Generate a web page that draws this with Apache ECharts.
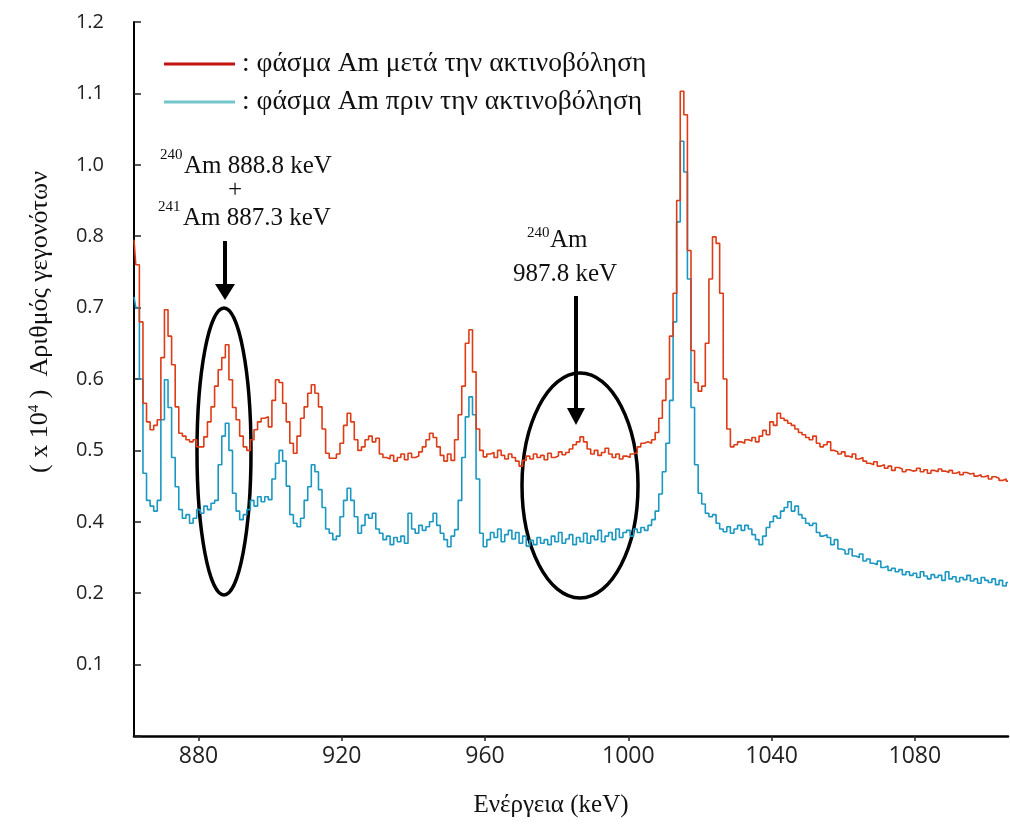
<!DOCTYPE html>
<html><head><meta charset="utf-8">
<script src="https://cdn.jsdelivr.net/npm/echarts@6/dist/echarts.min.js"></script>
<style>html,body{margin:0;padding:0;background:#fff}#c{width:1010px;height:827px}</style>
</head><body><div id="c"></div>
<script>
// Channel energies (keV): uniform 1 keV bins starting at 862 keV
const energyStart = 862;
const energyStep = 1;

// Counts in axis-position units (one unit = one labelled tick step)
const afterIrradiation = [
  6.95, 6.6, 5.8, 4.66, 4.4, 4.29, 4.35, 4.43, 5.3, 5.97,
  5.6, 5.2, 4.61, 4.24, 4.2, 4.15, 4.12, 4.15, 4.05, 4.05,
  4.19, 4.4, 4.61, 4.9, 5.13, 5.3, 5.48, 4.99, 4.6, 4.43,
  4.2, 4.05, 4.0, 4.15, 4.29, 4.4, 4.45, 4.47, 4.33, 4.7,
  4.99, 4.95, 4.66, 4.4, 4.1, 3.96, 4.2, 4.45, 4.61, 4.8,
  4.92, 4.8, 4.61, 4.3, 3.96, 3.89, 3.89, 3.95, 4.1, 4.35,
  4.52, 4.4, 4.15, 4.0, 4.05, 4.15, 4.2, 4.12, 4.17, 3.95,
  3.9, 3.88, 3.93, 3.85, 3.9, 3.95, 3.87, 3.96, 3.9, 3.92,
  3.98, 4.05, 4.15, 4.24, 4.18, 4.05, 3.93, 3.85, 3.95, 3.86,
  4.15, 4.5, 4.9, 5.5, 5.69, 5.1, 4.3, 4.0, 3.91, 3.95,
  3.97, 3.9, 4.0, 3.93, 3.88, 3.95, 3.9, 3.85, 3.78, 3.86,
  3.92, 3.88, 3.95, 3.9, 3.93, 3.87, 3.96, 3.9, 3.92, 3.98,
  3.94, 3.97, 4.02, 4.08, 4.12, 4.19, 4.12, 4.02, 3.95, 4.0,
  3.93, 3.97, 4.03, 3.95, 3.9, 3.95, 3.88, 3.92, 3.9, 3.95,
  3.97, 4.05, 4.1, 4.12, 4.1, 4.15, 4.25, 4.45, 4.7, 5.0,
  5.6, 6.2, 7.5, 9.03, 8.7, 6.8, 5.4, 4.95, 4.83, 4.9,
  5.5, 6.4, 6.99, 6.9, 6.2, 5.0, 4.3, 4.05, 4.08, 4.12,
  4.1, 4.15, 4.13, 4.18, 4.12, 4.2, 4.28, 4.22, 4.4, 4.35,
  4.52, 4.45, 4.42, 4.38, 4.35, 4.3, 4.25, 4.22, 4.18, 4.15,
  4.2, 4.1, 4.05, 4.08, 4.12, 4.0, 3.98, 3.95, 3.98, 3.92,
  3.9, 3.95, 3.88, 3.9, 3.85, 3.82, 3.8, 3.84, 3.78, 3.8,
  3.75, 3.78, 3.72, 3.76, 3.74, 3.7, 3.73, 3.71, 3.72, 3.75,
  3.7, 3.73, 3.68, 3.72, 3.7, 3.74, 3.71, 3.69, 3.72, 3.68,
  3.7, 3.66, 3.69, 3.67, 3.68, 3.64, 3.66, 3.63, 3.65, 3.6,
  3.63, 3.61, 3.58, 3.6, 3.57
];

const beforeIrradiation = [
  6.15, 6.0, 5.0, 3.68, 3.3, 3.22, 3.15, 3.3, 4.43, 4.99,
  4.6, 3.9, 3.49, 3.17, 3.05, 3.1, 2.98, 3.05, 3.17, 3.12,
  3.22, 3.17, 3.26, 3.3, 3.8, 4.2, 4.38, 4.0, 3.4, 3.15,
  3.03, 3.1, 3.17, 3.3, 3.22, 3.35, 3.28, 3.35, 3.31, 3.6,
  3.82, 4.0, 3.85, 3.5, 3.1, 2.98, 2.93, 3.05, 3.3, 3.49,
  3.8, 3.7, 3.45, 3.2, 2.9, 2.84, 2.75, 2.8, 3.07, 3.3,
  3.47, 3.3, 3.07, 2.84, 2.95, 3.1, 3.05, 3.12, 2.9, 2.84,
  2.75, 2.8, 2.68, 2.78, 2.72, 2.8, 2.7, 3.12, 2.9, 2.84,
  2.95, 2.88, 2.93, 3.0, 3.12, 2.95, 2.84, 2.75, 2.65, 2.8,
  2.89, 3.3, 3.9, 4.47, 4.75, 4.5, 3.6, 2.84, 2.65, 2.75,
  2.85, 2.78, 2.9, 2.72, 2.82, 2.88, 2.76, 2.85, 2.7, 2.8,
  2.66, 2.74, 2.68, 2.78, 2.7, 2.75, 2.68, 2.8, 2.72, 2.85,
  2.7, 2.76, 2.82, 2.68, 2.78, 2.72, 2.84, 2.7, 2.8, 2.75,
  2.88, 2.72, 2.8, 2.85, 2.75, 2.9, 2.78, 2.85, 2.88, 2.8,
  2.9, 2.85, 2.92, 2.88, 2.95, 3.03, 3.15, 3.39, 3.7, 4.1,
  4.7, 5.8, 7.2, 8.33, 7.9, 6.4, 4.6, 3.8, 3.4, 3.25,
  3.12, 3.07, 3.1, 2.98, 2.9, 2.86, 2.93, 2.84, 2.9, 2.95,
  2.88, 2.95, 2.9, 2.82, 2.75, 2.68, 2.8, 2.92, 3.0, 3.08,
  3.05, 3.15, 3.2, 3.28, 3.15, 3.22, 3.1, 3.05, 2.98, 2.95,
  2.98, 2.85, 2.8, 2.82, 2.78, 2.68, 2.75, 2.62, 2.6, 2.55,
  2.62, 2.52, 2.5, 2.55, 2.45, 2.48, 2.42, 2.4, 2.45, 2.36,
  2.38, 2.32, 2.35, 2.3, 2.33, 2.26, 2.3, 2.25, 2.28, 2.22,
  2.3, 2.24, 2.2, 2.26, 2.22, 2.25, 2.18, 2.3, 2.2, 2.23,
  2.16, 2.22, 2.19, 2.25, 2.17, 2.2, 2.14, 2.22, 2.18, 2.15,
  2.2, 2.12, 2.18, 2.1, 2.15
];

const xTickValues = [880, 920, 960, 1000, 1040, 1080];
const yTickLabels = ['', '0.1', '0.2', '0.4', '0.5', '0.6', '0.7', '0.8', '1.0', '1.1', '1.2'];
const seriesNames = [': φάσμα Am μετά την ακτινοβόληση', ': φάσμα Am πριν την ακτινοβόληση'];

const energies = afterIrradiation.map((_, i) => energyStart + i * energyStep);
const toPairs = vals => vals.map((v, i) => [energies[i], v]);

const SERIF = "'Liberation Serif', 'Times New Roman', serif";
const SANS = "'Open Sans', 'Noto Sans', sans-serif";
const SANS_NARROW = "'Liberation Sans Narrow', 'Open Sans', sans-serif";

const chart = echarts.init(document.getElementById('c'), null, { renderer: 'canvas' });

const option = {
  animation: false,
  backgroundColor: '#ffffff',
  grid: { left: 134, right: 2, top: 22, bottom: 91 },
  xAxis: {
    type: 'value', min: 862, max: 1106,
    axisLine: { show: true, onZero: false, lineStyle: { color: '#000', width: 2.5 } },
    axisTick: { show: true, customValues: xTickValues, inside: false, length: 5, lineStyle: { color: '#222', width: 1.5 } },
    axisLabel: { customValues: xTickValues, formatter: v => String(v), color: '#222', fontFamily: SANS_NARROW, fontSize: 23, margin: 9 },
    splitLine: { show: false }
  },
  yAxis: {
    type: 'value', min: 0, max: 10, interval: 1,
    axisLine: { show: true, lineStyle: { color: '#000', width: 2 } },
    axisTick: { show: true, inside: true, length: 7, lineStyle: { color: '#222', width: 1.5 } },
    axisLabel: { formatter: v => yTickLabels[Math.round(v)] || '', color: '#222', fontFamily: SANS, fontSize: 20, margin: 30 },
    splitLine: { show: false }
  },
  legend: {
    orient: 'vertical', left: 159, top: 44, icon: 'rect',
    itemWidth: 71, itemHeight: 3, itemGap: 8, selectedMode: false,
    textStyle: { fontFamily: SERIF, fontSize: 27.5, color: '#111', lineHeight: 30, padding: [0, 0, 0, 2] },
    data: [
      { name: seriesNames[0], itemStyle: { color: '#c4120c' } },
      { name: seriesNames[1], itemStyle: { color: '#74c6cb' } }
    ]
  },
  series: [
    {
      name: seriesNames[1], type: 'line', step: 'middle', showSymbol: false,
      data: toPairs(beforeIrradiation),
      lineStyle: { color: '#1a98c2', width: 1.6 }, itemStyle: { color: '#1a98c2' }, z: 2
    },
    {
      name: seriesNames[0], type: 'line', step: 'middle', showSymbol: false,
      data: toPairs(afterIrradiation),
      lineStyle: { color: '#de3c16', width: 1.6 }, itemStyle: { color: '#de3c16' }, z: 3
    }
  ],
  graphic: [
    // y-axis title
    {
      type: 'text', x: 40, y: 322, rotation: Math.PI / 2,
      style: {
        text: '( x 10{s|4} )  Αριθμός γεγονότων',
        font: "26px 'Liberation Serif', serif", fill: '#111',
        align: 'center', verticalAlign: 'middle',
        rich: { s: { fontSize: 15, fontFamily: SERIF, verticalAlign: 'top', padding: [0, 0, 11, 0] } }
      }
    },
    // x-axis title
    {
      type: 'text', x: 551, y: 805,
      style: { text: 'Ενέργεια (keV)', font: "25px 'Liberation Serif', serif", fill: '#111', align: 'center', verticalAlign: 'middle' }
    },
    // annotation 1
    { type: 'text', x: 160, y: 155, style: { text: '240', font: "15px 'Liberation Serif', serif", fill: '#111', align: 'left', verticalAlign: 'middle' } },
    { type: 'text', x: 184, y: 166, style: { text: 'Am 888.8 keV', font: "25px 'Liberation Serif', serif", fill: '#111', align: 'left', verticalAlign: 'middle' } },
    { type: 'text', x: 235, y: 190, style: { text: '+', font: "25px 'Liberation Serif', serif", fill: '#111', align: 'center', verticalAlign: 'middle' } },
    { type: 'text', x: 158, y: 207, style: { text: '241', font: "15px 'Liberation Serif', serif", fill: '#111', align: 'left', verticalAlign: 'middle' } },
    { type: 'text', x: 183, y: 218, style: { text: 'Am 887.3 keV', font: "25px 'Liberation Serif', serif", fill: '#111', align: 'left', verticalAlign: 'middle' } },
    { type: 'line', shape: { x1: 225, y1: 241, x2: 225, y2: 288 }, style: { stroke: '#000', lineWidth: 4 } },
    { type: 'polygon', shape: { points: [[215, 284], [235, 284], [225, 300]] }, style: { fill: '#000' } },
    { type: 'ellipse', shape: { cx: 224, cy: 451.5, rx: 27, ry: 143.5 }, style: { stroke: '#000', fill: null, lineWidth: 3.5 } },
    // annotation 2
    { type: 'text', x: 527, y: 233, style: { text: '240', font: "15px 'Liberation Serif', serif", fill: '#111', align: 'left', verticalAlign: 'middle' } },
    { type: 'text', x: 550, y: 240, style: { text: 'Am', font: "25px 'Liberation Serif', serif", fill: '#111', align: 'left', verticalAlign: 'middle' } },
    { type: 'text', x: 565, y: 274, style: { text: '987.8 keV', font: "25px 'Liberation Serif', serif", fill: '#111', align: 'center', verticalAlign: 'middle' } },
    { type: 'line', shape: { x1: 576, y1: 296, x2: 576, y2: 412 }, style: { stroke: '#000', lineWidth: 4 } },
    { type: 'polygon', shape: { points: [[567, 408], [585, 408], [576, 425]] }, style: { fill: '#000' } },
    { type: 'ellipse', shape: { cx: 580, cy: 485.5, rx: 58, ry: 112.5 }, style: { stroke: '#000', fill: null, lineWidth: 3.5 } }
  ]
};

chart.setOption(option);
</script>
</body></html>
